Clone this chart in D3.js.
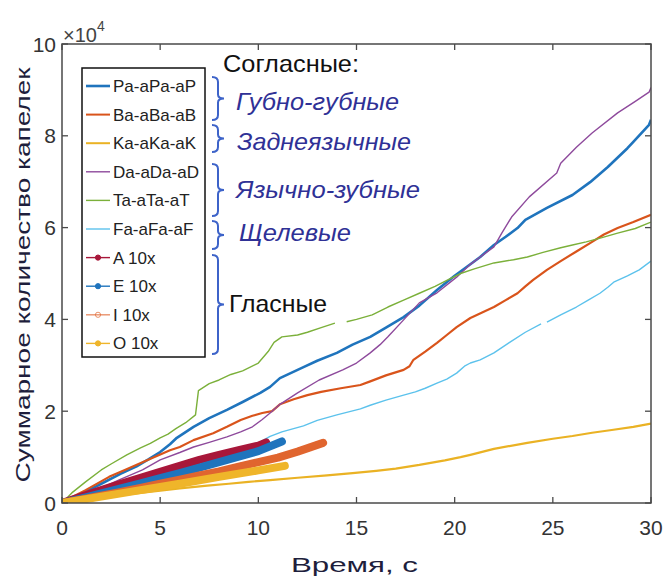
<!DOCTYPE html>
<html>
<head>
<meta charset="utf-8">
<script src="https://cdn.jsdelivr.net/npm/d3@7"></script>
<style>
  html, body { margin: 0; padding: 0; background: #fff; }
  svg { display: block; font-family: "Liberation Sans", Arial, Helvetica, sans-serif; }
</style>
</head>
<body>
<svg id="chart" width="667" height="577"></svg>
<script>
// Cumulative droplet counts (×10^4) over time, seconds: [t, value]; null breaks a line
const seriesPa = [[0,0],[1,0.2],[2,0.42],[3,0.64],[3.8,0.8],[4.4,0.95],[5,1.11],[5.5,1.28],[5.85,1.42],[6.7,1.66],[7.5,1.85],[8.4,2.03],[9.2,2.2],[10.1,2.4],[10.6,2.53],[11.1,2.72],[12.3,2.96],[13,3.1],[14,3.27],[14.8,3.45],[15.7,3.62],[16.5,3.82],[17.4,4.05],[18.2,4.3],[19.1,4.64],[20,4.95],[20.8,5.2],[21.3,5.36],[22,5.62],[22.6,5.8],[23.2,5.99],[23.6,6.17],[24.7,6.43],[26,6.71],[26.9,6.99],[27.8,7.32],[28.8,7.73],[29.1,7.87],[29.9,8.24],[30,8.35]];
const seriesBa = [[0,0],[0.6,0.15],[1.2,0.28],[2.4,0.57],[3.2,0.72],[4.1,0.89],[5.5,1.15],[6,1.22],[6.7,1.37],[7.7,1.52],[8.4,1.66],[9.1,1.81],[9.7,1.9],[10.2,1.96],[10.7,2.0],[11.1,2.15],[11.8,2.26],[12.5,2.35],[13.2,2.42],[14.2,2.5],[15.2,2.57],[15.7,2.65],[16.5,2.78],[17.4,2.9],[17.7,2.98],[17.9,3.12],[18.5,3.3],[19.1,3.49],[19.6,3.66],[20.1,3.83],[20.8,4.03],[21.4,4.15],[22,4.27],[22.6,4.42],[23.2,4.57],[23.6,4.72],[24,4.86],[24.7,5.08],[25.4,5.27],[26.2,5.48],[27,5.69],[27.6,5.85],[28.3,5.99],[29.1,6.12],[30,6.28]];
const seriesKa = [[0,0],[1,0.06],[2,0.12],[3,0.17],[4,0.22],[5,0.27],[6,0.32],[7.4,0.38],[8.5,0.42],[9.5,0.46],[10.6,0.5],[12,0.55],[13.5,0.6],[14.8,0.65],[16,0.7],[17,0.75],[18.2,0.83],[19.5,0.93],[20.3,1.0],[20.8,1.05],[22,1.18],[23.7,1.31],[25,1.4],[26,1.46],[27,1.53],[28,1.59],[29.1,1.66],[30,1.73]];
const seriesDa = [[0,0],[1,0.15],[2,0.33],[3,0.52],[4.1,0.72],[5,0.94],[6,1.1],[6.7,1.22],[7.5,1.32],[8.4,1.44],[9.1,1.55],[9.7,1.66],[10.2,1.82],[10.6,1.96],[11.1,2.15],[12,2.4],[13.1,2.68],[14.3,2.9],[15,3.05],[15.7,3.27],[16.2,3.45],[16.6,3.62],[17.4,3.99],[18.2,4.36],[19.1,4.58],[20.1,4.92],[20.8,5.2],[21.3,5.36],[22,5.58],[22.4,5.88],[22.9,6.23],[23.8,6.67],[25.2,7.19],[25.4,7.4],[26.2,7.75],[27,8.06],[28.3,8.5],[29.2,8.75],[29.9,8.95],[30,9.05]];
const seriesTa = [[0,0],[0.5,0.22],[1.2,0.46],[2,0.72],[2.5,0.85],[3.3,1.05],[4,1.2],[4.5,1.3],[5,1.42],[5.4,1.5],[5.8,1.62],[6.3,1.75],[6.8,1.92],[6.95,2.45],[7.5,2.6],[8,2.68],[8.6,2.8],[9.2,2.88],[10,3.05],[10.5,3.3],[10.8,3.5],[11.2,3.62],[12,3.66],[12.5,3.72],[13.2,3.82],[13.9,3.92],null,[14.5,3.95],[15,4.0],[15.8,4.1],[16.6,4.27],[17.4,4.42],[18.2,4.57],[19,4.72],[19.6,4.85],[20.3,5.0],[21,5.1],[22,5.23],[23,5.3],[23.7,5.36],[24.5,5.46],[25.4,5.56],[26,5.62],[26.7,5.69],[27.5,5.78],[28.3,5.88],[29.2,5.98],[30,6.12]];
const seriesFa = [[0,0],[1,0.12],[2,0.25],[3,0.38],[4,0.52],[5,0.65],[6,0.78],[7,0.92],[8,1.05],[9,1.18],[10.1,1.33],[10.6,1.45],[11.2,1.55],[12.3,1.68],[13,1.8],[14,1.92],[15.2,2.05],[15.7,2.13],[16.5,2.24],[17.4,2.35],[18,2.42],[18.5,2.5],[19.1,2.61],[19.6,2.7],[20.1,2.83],[20.5,2.98],[20.8,3.05],[21.3,3.12],[22,3.27],[22.8,3.5],[23.6,3.72],[24.4,3.9],null,[24.7,3.94],[25.4,4.1],[26.2,4.27],[26.8,4.42],[27.4,4.57],[27.8,4.7],[28.1,4.81],[28.8,4.95],[29.4,5.08],[30,5.27]];
const seriesA = [[0,0],[1,0.14],[2,0.28],[3,0.42],[4,0.55],[5,0.68],[6,0.81],[7,0.94],[8,1.05],[9,1.15],[10,1.25],[10.4,1.32]];
const seriesE = [[0,0],[1,0.1],[2,0.21],[3,0.32],[4,0.43],[5,0.54],[6,0.65],[7,0.77],[8,0.89],[9,1.01],[10,1.13],[11.2,1.34]];
const seriesI = [[0,0],[1,0.08],[2,0.16],[3,0.24],[4,0.33],[5,0.42],[6,0.51],[7,0.6],[8,0.69],[9,0.79],[10,0.89],[11,0.99],[12,1.12],[13.3,1.31]];
const seriesO = [[0,0],[2,0.14],[4,0.28],[6,0.42],[8,0.57],[10,0.71],[11.35,0.81]];

const legendNames = ["Pa-aPa-aP","Ba-aBa-aB","Ka-aKa-aK","Da-aDa-aD","Ta-aTa-aT","Fa-aFa-aF","A 10x","E 10x","I 10x","O 10x"];
const seriesColors = ["#1f74bd","#d9541b","#eab224","#8e4a9c","#7bb03a","#5cc2ec","#a8173a","#1f74bd","#e0652f","#efb52a"];
const seriesData = [seriesPa, seriesBa, seriesKa, seriesDa, seriesTa, seriesFa, seriesA, seriesE, seriesI, seriesO];

const xTicks = [0, 5, 10, 15, 20, 25, 30];
const yTicks = [0, 2, 4, 6, 8, 10];

// Consonant groups and their legend rows (first..last), plus vowels
const groupLabels = ["Губно-губные", "Заднеязычные", "Язычно-зубные", "Щелевые"];
const headerLabel = "Согласные:";
const vowelLabel = "Гласные";
const xTitle = "Время, с";
const yTitle = "Суммарное количество капелек";

const svg = d3.select("#chart");
const margin = {left: 62, right: 16, top: 44, bottom: 74};
const W = 667, H = 577;
const x = d3.scaleLinear().domain([0, 30]).range([margin.left, W - margin.right]);
const y = d3.scaleLinear().domain([0, 10]).range([H - margin.bottom, margin.top]);

const plot = svg.append("g");
const clipId = "plotclip";
svg.append("defs").append("clipPath").attr("id", clipId)
  .append("rect").attr("x", x(0)).attr("y", y(10)).attr("width", x(30) - x(0)).attr("height", y(0) - y(10));

const line = d3.line()
  .defined(d => d !== null)
  .x(d => x(d[0])).y(d => y(d[1]));

const widths = [2.6, 2.2, 2.2, 1.4, 1.4, 1.4, 8, 8, 8, 8];

const lines = plot.append("g").attr("clip-path", `url(#${clipId})`);
seriesData.forEach((s, i) => {
  lines.append("path")
    .attr("d", line(s))
    .attr("fill", "none")
    .attr("stroke", seriesColors[i])
    .attr("stroke-width", widths[i])
    .attr("stroke-linejoin", "round")
    .attr("stroke-linecap", i >= 6 ? "round" : "butt");
});

// Axes box with inward ticks on all sides
const axisColor = "#4a4a4a";
const tickLen = 6;
const axes = svg.append("g");
axes.append("rect")
  .attr("x", x(0)).attr("y", y(10))
  .attr("width", x(30) - x(0)).attr("height", y(0) - y(10))
  .attr("fill", "none").attr("stroke", axisColor).attr("stroke-width", 1.5);

xTicks.forEach(t => {
  axes.append("line").attr("x1", x(t)).attr("x2", x(t)).attr("y1", y(0)).attr("y2", y(0) - tickLen)
    .attr("stroke", axisColor).attr("stroke-width", 1.3);
  axes.append("line").attr("x1", x(t)).attr("x2", x(t)).attr("y1", y(10)).attr("y2", y(10) + tickLen)
    .attr("stroke", axisColor).attr("stroke-width", 1.3);
  axes.append("text").attr("x", x(t)).attr("y", y(0) + 32)
    .attr("text-anchor", "middle").attr("font-size", 21).attr("fill", "#333")
    .text(t);
});
yTicks.forEach(v => {
  axes.append("line").attr("x1", x(0)).attr("x2", x(0) + tickLen).attr("y1", y(v)).attr("y2", y(v))
    .attr("stroke", axisColor).attr("stroke-width", 1.3);
  axes.append("line").attr("x1", x(30)).attr("x2", x(30) - tickLen).attr("y1", y(v)).attr("y2", y(v))
    .attr("stroke", axisColor).attr("stroke-width", 1.3);
  axes.append("text").attr("x", x(0) - 6).attr("y", y(v) + 7.5)
    .attr("text-anchor", "end").attr("font-size", 21).attr("fill", "#333")
    .text(v);
});

// Exponent marker above the y axis
const expo = axes.append("text").attr("x", x(0) + 1).attr("y", 42).attr("font-size", 20).attr("fill", "#444");
expo.append("tspan").text("×10");
expo.append("tspan").attr("dy", -11).attr("font-size", 14).text("4");

// Axis titles
svg.append("text")
  .attr("x", 354.5).attr("y", 572)
  .attr("text-anchor", "middle").attr("font-size", 21).attr("fill", "#1e1e3c")
  .attr("textLength", 127).attr("lengthAdjust", "spacingAndGlyphs")
  .text(xTitle);
svg.append("text")
  .attr("transform", "translate(30,275) rotate(-90)")
  .attr("text-anchor", "middle").attr("font-size", 21).attr("fill", "#1e1e3c")
  .attr("textLength", 415).attr("lengthAdjust", "spacingAndGlyphs")
  .text(yTitle);

// Legend
const legendTop = 68, legendLeft = 82, legendRight = 205, legendBottom = 357;
const rowStep = 28.6, firstRow = 86;
const legend = svg.append("g");
legend.append("rect")
  .attr("x", legendLeft).attr("y", legendTop)
  .attr("width", legendRight - legendLeft).attr("height", legendBottom - legendTop)
  .attr("fill", "#fff").attr("stroke", "#111").attr("stroke-width", 1.5);
legendNames.forEach((name, i) => {
  const ry = firstRow + i * rowStep;
  legend.append("line")
    .attr("x1", 86).attr("x2", 110).attr("y1", ry).attr("y2", ry)
    .attr("stroke", seriesColors[i]).attr("stroke-width", i === 0 ? 2.6 : (i < 3 ? 2 : 1.4))
    .attr("opacity", i === 8 ? 0.7 : 1);
  if (i >= 6) {
    legend.append("circle").attr("cx", 98).attr("cy", ry).attr("r", 2.6)
      .attr("fill", i === 8 ? "none" : seriesColors[i])
      .attr("stroke", seriesColors[i]).attr("stroke-width", 1)
      .attr("opacity", i === 8 ? 0.7 : 1);
  }
  legend.append("text")
    .attr("x", 113).attr("y", ry + 6)
    .attr("font-size", 17).attr("fill", "#222")
    .text(name);
});

// Group braces and annotations
const braceColor = "#3d63c9";
function brace(y1, y2) {
  const x0 = 212, xs = 218, xt = 224, m = (y1 + y2) / 2;
  return `M${x0},${y1} Q${xs},${y1} ${xs},${y1 + 5} L${xs},${m - 4} Q${xs},${m} ${xt},${m}`
       + ` Q${xs},${m} ${xs},${m + 4} L${xs},${y2 - 5} Q${xs},${y2} ${x0},${y2}`;
}
const braceSpans = [[77, 120], [125, 152], [164, 216], [221, 249], [255, 354]];
const ann = svg.append("g");
braceSpans.forEach(([a, b]) => {
  ann.append("path").attr("d", brace(a, b))
    .attr("fill", "none").attr("stroke", braceColor).attr("stroke-width", 2);
});

ann.append("text").attr("x", 223).attr("y", 72)
  .attr("font-size", 24).attr("fill", "#111")
  .attr("textLength", 136).attr("lengthAdjust", "spacingAndGlyphs")
  .text(headerLabel);

const groupText = [
  {y: 110, x: 236, w: 163},
  {y: 150, x: 237, w: 174},
  {y: 198, x: 236, w: 184},
  {y: 241, x: 239, w: 112}
];
groupLabels.forEach((g, i) => {
  ann.append("text").attr("x", groupText[i].x).attr("y", groupText[i].y)
    .attr("font-size", 24).attr("font-style", "italic").attr("fill", "#2f3196")
    .attr("textLength", groupText[i].w).attr("lengthAdjust", "spacingAndGlyphs")
    .text(g);
});

ann.append("text").attr("x", 229).attr("y", 312)
  .attr("font-size", 24).attr("fill", "#111")
  .attr("textLength", 98).attr("lengthAdjust", "spacingAndGlyphs")
  .text(vowelLabel);
</script>
</body>
</html>
